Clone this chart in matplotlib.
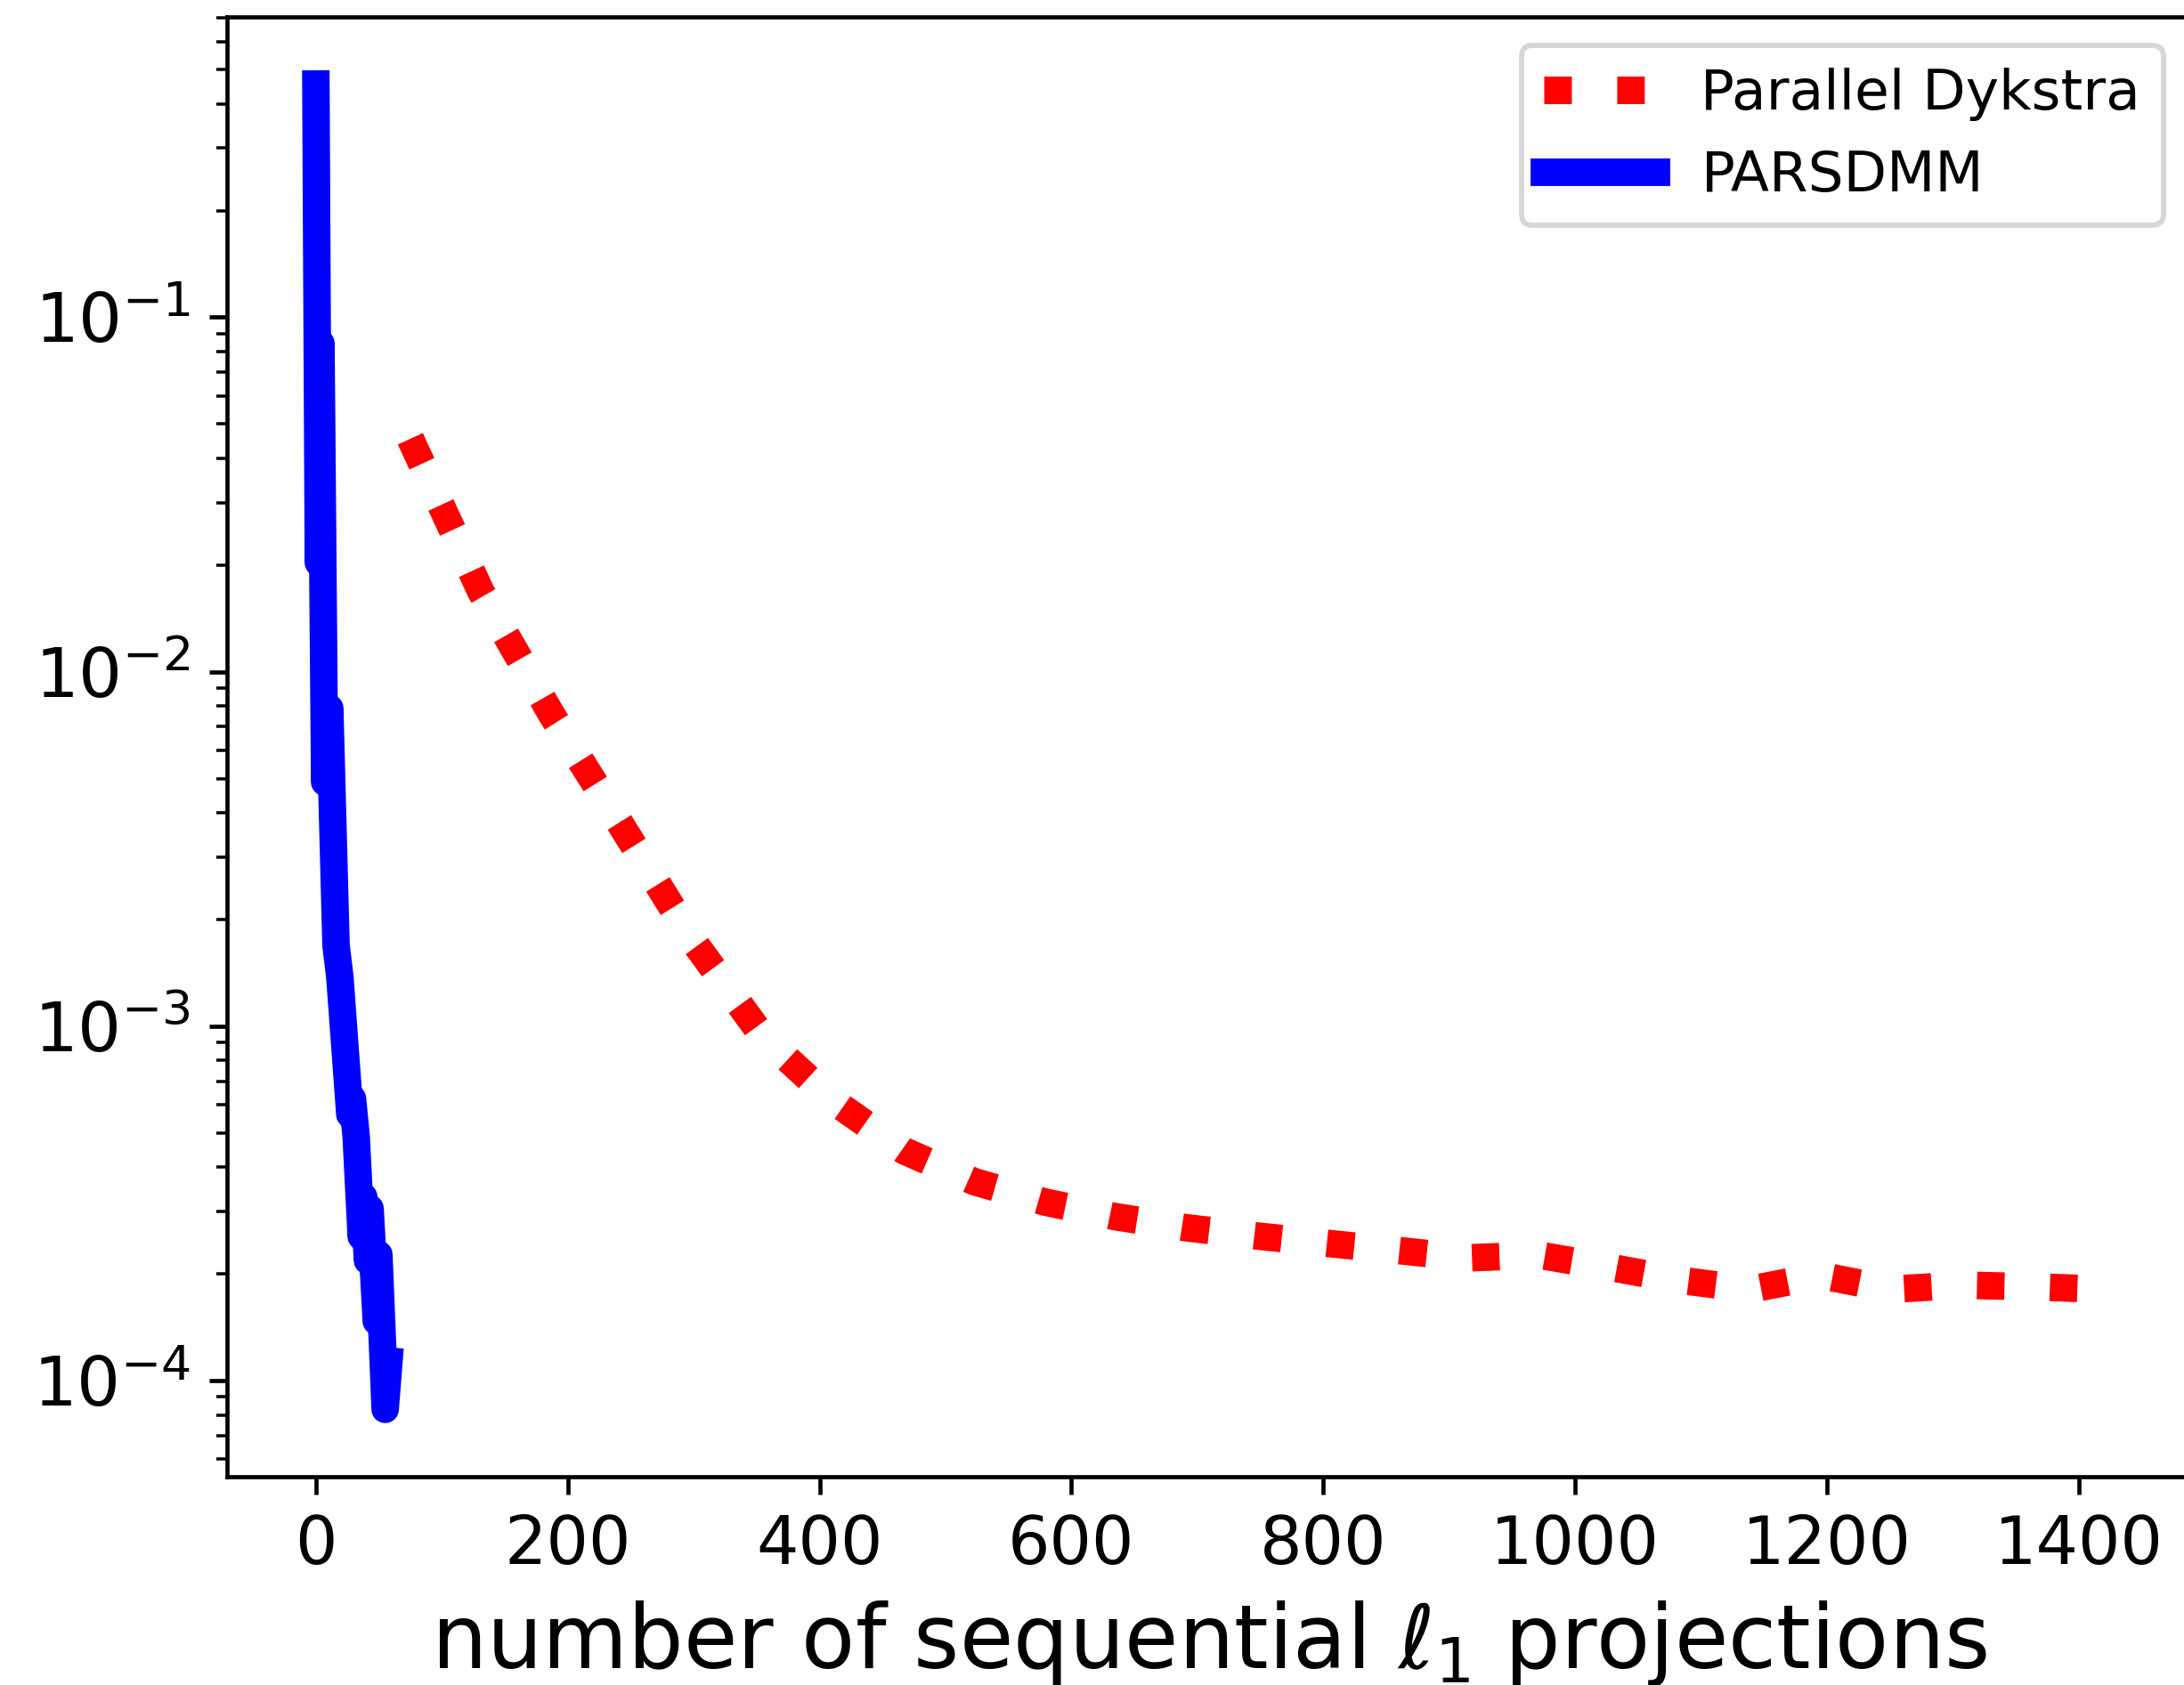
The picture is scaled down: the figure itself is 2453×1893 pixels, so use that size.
import matplotlib
matplotlib.use("Agg")
import matplotlib.pyplot as plt

# Parallel Dykstra (red dotted)
dyk_x = [75, 131, 187, 243, 299, 355, 411, 467, 523, 579, 635, 691, 747,
         803, 859, 915, 971, 1027, 1083, 1139, 1195, 1251, 1307, 1363, 1419]
dyk_y = [0.0454, 0.01683, 0.00759, 0.00366, 0.00175, 0.000935, 0.000614,
         0.000445, 0.000364, 0.000319, 0.000290, 0.000270, 0.000256,
         0.000244, 0.000233, 0.000222, 0.000226, 0.000209, 0.000192,
         0.000181, 0.000198, 0.000181, 0.000186, 0.000184, 0.000181]

# PARSDMM (blue solid)
par_x = [0, 2, 4, 7, 11, 16, 19, 27, 29, 32, 36, 38, 41, 43, 48, 50, 55, 58]
par_y = [0.455, 0.0203, 0.0844, 0.00488, 0.00789, 0.00169, 0.00138,
         0.000563, 0.000625, 0.000488, 0.000255, 0.000330, 0.000218,
         0.000306, 0.000147, 0.000227, 0.000083, 0.0001135]

DPI = 420
W, H = 2453, 1893
fig = plt.figure(figsize=(W / DPI, H / DPI), dpi=DPI)
left_px, right_px, top_px, bot_px = 254.5, 2461.0, 19.5, 1659.0
ax = fig.add_axes([left_px / W, (H - bot_px) / H,
                   (right_px - left_px) / W, (bot_px - top_px) / H])

lw = 5.3
ax.plot(dyk_x, dyk_y, color='r', linestyle=':', linewidth=lw,
        label='Parallel Dykstra')
ax.plot(par_x, par_y, color='b', linestyle='-', linewidth=lw,
        label='PARSDMM')

ax.set_yscale('log')
ax.set_xlim(-70.9, 1489)
ax.set_ylim(10 ** -4.271, 10 ** -0.154)
ax.set_xticks([0, 200, 400, 600, 800, 1000, 1200, 1400])

ax.tick_params(axis='x', which='major', labelsize=12.8)
ax.tick_params(axis='y', which='major', labelsize=13.2)
ax.set_xlabel('number of sequential $\\ell_1$ projections', fontsize=16.9)

ax.legend(loc='upper right', fontsize=10.8)

fig.savefig('out.png', dpi=DPI)
